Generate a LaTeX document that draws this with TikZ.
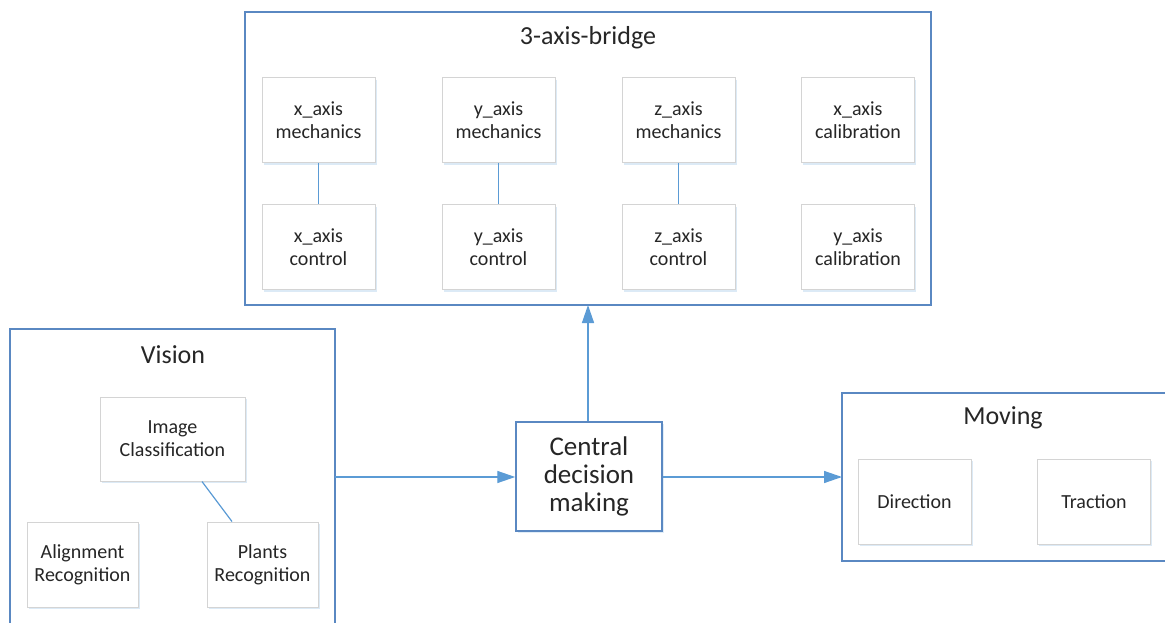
\documentclass[tikz,border=0pt]{standalone}
\usepackage{fontspec}
\setmainfont{Carlito}
\usetikzlibrary{arrows.meta,shadows}
\definecolor{frameblue}{HTML}{5A88C2}
\definecolor{linkblue}{HTML}{5B9BD5}
\definecolor{boxgray}{HTML}{D4D4D4}
\definecolor{inktext}{HTML}{262626}
\tikzset{
  group/.style={draw=frameblue, line width=1.5pt, fill=white},
  grouptitle/.style={font=\fontsize{26}{30}\selectfont, text=inktext},
  part/.style={draw=boxgray, line width=1pt, fill=white,
    minimum width=113pt, minimum height=85pt, inner sep=0pt,
    align=center, text=inktext, font=\fontsize{20}{23}\selectfont,
    drop shadow={fill=linkblue!60, opacity=0.35, shadow xshift=1.5pt, shadow yshift=-2pt}},
  hub/.style={draw=frameblue, line width=1.5pt, fill=white,
    minimum width=146pt, minimum height=109pt, inner sep=0pt,
    align=center, text=inktext, font=\fontsize{27}{28}\selectfont,
    drop shadow={fill=linkblue!60, opacity=0.3, shadow xshift=1.5pt, shadow yshift=-2pt}},
  link/.style={draw=linkblue, line width=1.2pt},
  flow/.style={draw=linkblue, line width=1.4pt, -{Triangle[length=18pt,width=12pt]}}
}
\begin{document}
\begin{tikzpicture}[x=1pt,y=-1pt]
\useasboundingbox (0,0) rectangle (1165,623);
\clip (0,0) rectangle (1165,623);

% group frames
\draw[group] (245,12) rectangle (931,305);
\node[grouptitle] (bridgetitle) at (588,38) {3-axis-bridge};
\draw[group] (10,329) rectangle (335,640);
\node[grouptitle] (visiontitle) at (173,355) {Vision};
\draw[group] (842,393) rectangle (1170,561);
\node[grouptitle] (movingtitle) at (1003,418) {Moving};

% 3-axis bridge parts
\node[part] (xmech) at (318.5,120.5) {x\_axis\\mechanics};
\node[part] (ymech) at (498.5,120.5) {y\_axis\\mechanics};
\node[part] (zmech) at (678.5,120.5) {z\_axis\\mechanics};
\node[part] (xcal)  at (858,120.5)  {x\_axis\\calibration};
\node[part] (xctrl) at (318.5,247)  {x\_axis\\control};
\node[part] (yctrl) at (498.5,247)  {y\_axis\\control};
\node[part] (zctrl) at (678.5,247)  {z\_axis\\control};
\node[part] (ycal)  at (858,247)    {y\_axis\\calibration};
\draw[link] (xmech) -- (xctrl);
\draw[link] (ymech) -- (yctrl);
\draw[link] (zmech) -- (zctrl);

% vision parts
\node[part, minimum width=145pt, minimum height=84pt] (imgcls) at (172.5,439) {Image\\Classification};
\node[part, minimum width=111pt] (align) at (82.5,564.5) {Alignment\\Recognition};
\node[part, minimum width=111pt] (plants) at (262.5,564.5) {Plants\\Recognition};
\draw[link] (imgcls.south -| 202,0) -- (plants.north -| 232,0);

% moving parts
\node[part] (direction) at (914.5,501.5) {Direction};
\node[part] (traction)  at (1094,501.5) {Traction};

% decision hub and flows
\node[hub] (central) at (589,476.5) {Central\\decision\\making};
\coordinate (visionout) at (335,477);
\coordinate (bridgein) at (588,305);
\coordinate (movingin) at (842,477);
\draw[flow] (visionout) -- (central.west |- visionout);
\draw[flow] (central.north -| bridgein) -- (bridgein);
\draw[flow] (central.east |- movingin) -- (movingin);
\end{tikzpicture}
\end{document}
